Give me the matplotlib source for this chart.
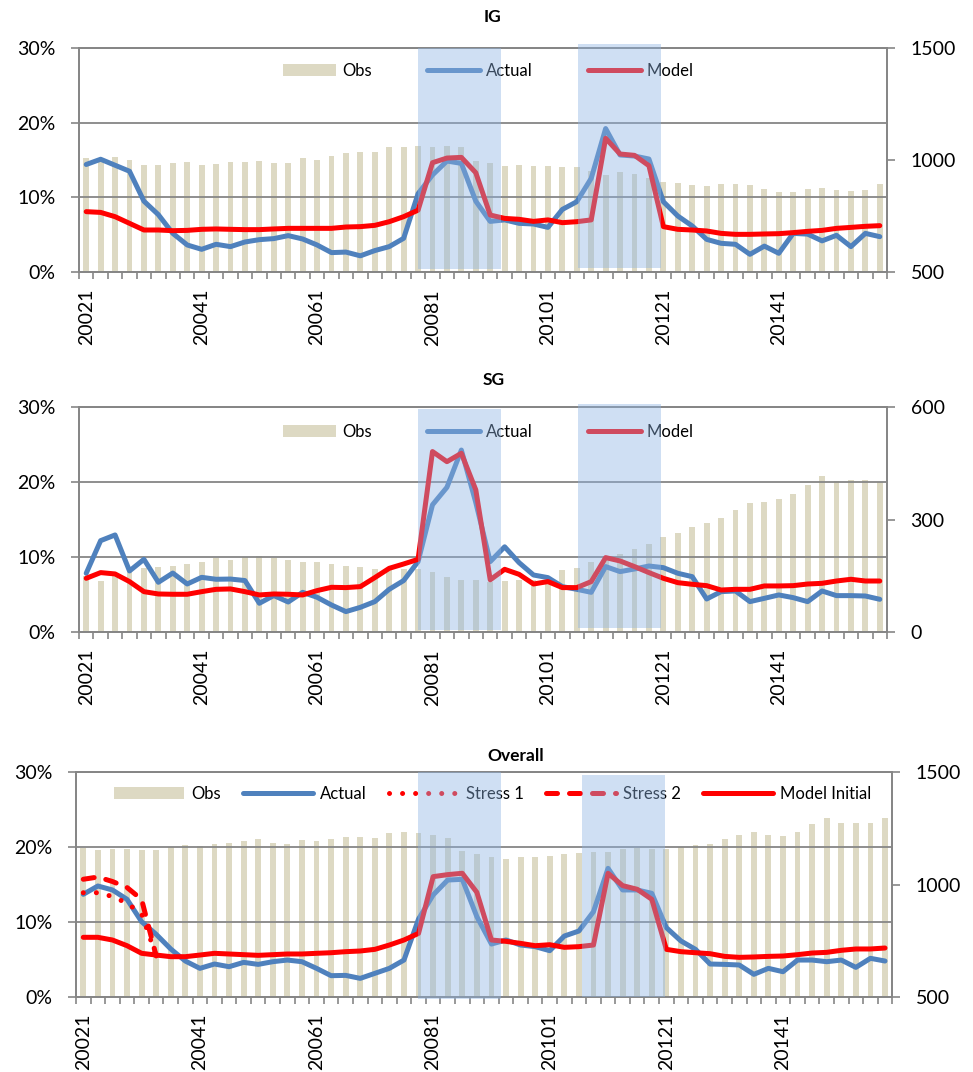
import numpy as np
import matplotlib
matplotlib.use("Agg")
import matplotlib.pyplot as plt
import matplotlib.transforms as mtransforms
from matplotlib.patches import Rectangle
from matplotlib.ticker import FuncFormatter

plt.rcParams['font.family'] = ['Lato', 'DejaVu Sans']

# quarters 2002Q1 .. 2015Q4, labelled as year + quarter
quarters = [f"{y}{q}" for y in range(2002, 2016) for q in range(1, 5)]

# IG
ig_obs = [1007, 1003, 1012, 998, 978, 978, 988, 991, 979, 983,
          991, 991, 994, 985, 986, 1007, 1001, 1019, 1031, 1034,
          1036, 1059, 1059, 1062, 1058, 1062, 1060, 995, 985, 973,
          978, 975, 975, 967, 967, 950, 935, 945, 939, 918,
          902, 896, 889, 886, 892, 893, 889, 869, 859, 859,
          871, 875, 866, 863, 866, 893]
ig_actual = [14.4, 15.1, 14.3, 13.5, 9.5, 7.7, 5.2, 3.65, 3.07, 3.74,
             3.43, 4.05, 4.36, 4.5, 4.9, 4.45, 3.65, 2.63, 2.7, 2.2,
             2.9, 3.43, 4.54, 10.5, 13.0, 14.86, 14.55, 9.5, 6.8, 7.0,
             6.54, 6.45, 6.0, 8.4, 9.43, 12.55, 19.2, 15.67, 15.53, 15.13,
             9.43, 7.52, 6.19, 4.4, 3.87, 3.74, 2.4, 3.5, 2.54, 5.2,
             5.1, 4.2, 4.94, 3.43, 5.2, 4.76]
ig_model = [8.1, 8.0, 7.43, 6.54, 5.65, 5.65, 5.56, 5.6, 5.74, 5.79,
            5.74, 5.7, 5.7, 5.79, 5.87, 5.87, 5.87, 5.87, 6.05, 6.1,
            6.27, 6.76, 7.43, 8.3, 14.64, 15.26, 15.35, 13.3, 7.65, 7.2,
            7.08, 6.8, 7.0, 6.63, 6.76, 7.0, 17.9, 15.8, 15.62, 14.24,
            6.1, 5.74, 5.65, 5.52, 5.2, 5.07, 5.07, 5.12, 5.16, 5.3,
            5.47, 5.6, 5.87, 6.0, 6.14, 6.23]

# SG
sg_obs = [150, 138, 150, 165, 172, 175, 176, 182, 188, 197,
          193, 200, 204, 197, 193, 188, 188, 181, 177, 174,
          169, 166, 168, 169, 162, 147, 140, 140, 135, 137,
          140, 140, 140, 165, 172, 188, 202, 209, 222, 236,
          254, 265, 282, 291, 306, 325, 344, 348, 356, 369,
          392, 418, 404, 406, 407, 401]
sg_actual = [7.87, 12.22, 12.98, 8.18, 9.73, 6.67, 7.9, 6.44, 7.33, 7.07,
             7.1, 6.9, 3.87, 4.9, 4.04, 5.33, 4.67, 3.64, 2.76, 3.33,
             4.09, 5.73, 6.9, 9.42, 17.0, 19.33, 24.3, 17.3, 9.42, 11.4,
             9.29, 7.64, 7.29, 6.09, 5.73, 5.33, 8.76, 8.09, 8.44, 8.84,
             8.62, 7.87, 7.42, 4.44, 5.42, 5.51, 4.09, 4.53, 4.98, 4.62,
             4.09, 5.51, 4.89, 4.89, 4.84, 4.4]
sg_model = [7.2, 7.96, 7.78, 6.76, 5.42, 5.11, 5.07, 5.07, 5.42, 5.73,
            5.78, 5.42, 4.98, 5.11, 5.07, 4.98, 5.56, 6.0, 5.96, 6.09,
            7.29, 8.53, 9.11, 9.73, 24.1, 22.75, 23.87, 19.0, 7.0, 8.4,
            7.73, 6.44, 6.76, 5.96, 5.96, 6.76, 9.96, 9.51, 8.76, 7.96,
            7.2, 6.62, 6.4, 6.22, 5.64, 5.73, 5.73, 6.18, 6.18, 6.22,
            6.44, 6.53, 6.84, 7.07, 6.84, 6.84]

# Overall
all_obs = [1161, 1154, 1158, 1157, 1152, 1155, 1169, 1176, 1172, 1181,
           1187, 1195, 1201, 1185, 1181, 1198, 1193, 1201, 1212, 1212,
           1207, 1231, 1234, 1231, 1219, 1209, 1149, 1138, 1121, 1114,
           1121, 1123, 1127, 1135, 1142, 1143, 1143, 1158, 1161, 1160,
           1160, 1166, 1175, 1181, 1201, 1221, 1236, 1221, 1216, 1233,
           1268, 1298, 1276, 1276, 1276, 1298]
all_actual = [13.69, 14.8, 14.27, 13.02, 10.03, 8.34, 6.38, 4.77, 3.79, 4.37,
              4.01, 4.59, 4.32, 4.68, 4.9, 4.68, 3.79, 2.81, 2.85, 2.45,
              3.12, 3.79, 4.9, 10.39, 13.6, 15.6, 15.69, 10.7, 7.04, 7.58,
              6.91, 6.69, 6.15, 8.11, 8.78, 11.37, 17.16, 14.27, 14.27, 13.82,
              9.23, 7.45, 6.33, 4.37, 4.32, 4.24, 2.99, 3.79, 3.34, 4.9,
              4.9, 4.68, 4.9, 3.92, 5.13, 4.77]
all_model = [7.94, 7.94, 7.58, 6.82, 5.8, 5.57, 5.35, 5.35, 5.57, 5.8,
             5.71, 5.62, 5.53, 5.62, 5.71, 5.71, 5.8, 5.88, 6.02, 6.11,
             6.33, 6.91, 7.58, 8.47, 16.05, 16.32, 16.5, 13.95, 7.58, 7.4,
             7.13, 6.82, 6.95, 6.6, 6.69, 6.91, 16.5, 14.85, 14.36, 13.02,
             6.33, 6.02, 5.88, 5.75, 5.39, 5.26, 5.31, 5.39, 5.44, 5.62,
             5.84, 5.93, 6.2, 6.38, 6.38, 6.51]
stress1 = [13.9, 13.9, 13.4, 12.5, 11.1, 5.45]
stress2 = [15.7, 16.0, 15.4, 14.6, 13.0, 5.45]

W, H = 973, 1072
fig = plt.figure(figsize=(W / 100, H / 100), dpi=100)

GRID = '#868686'
BEIGE = '#DDD9C3'
BLUE = '#4F81BD'
RED = '#FF0000'
SHADE = '#8EB4E3'

solid = dict(lw=3.6, solid_capstyle='round', solid_joinstyle='round')
actual_style = dict(color=BLUE, **solid)
model_style = dict(color=RED, **solid)
dot_style = dict(color=RED, lw=3.6, linestyle=(0, (0.01, 2.6)),
                 dash_capstyle='round', solid_joinstyle='round')
dash_style = dict(color=RED, lw=3.6, linestyle=(0, (2.2, 2.4)),
                  dash_capstyle='round', dash_joinstyle='round')


def panel(rect, title, title_xy, obs, obs_lim, obs_ticks, lines, shades, leg):
    l, t, r, b = rect
    ax = fig.add_axes([l / W, 1 - b / H, (r - l) / W, (b - t) / H])
    ax2 = ax.twinx()
    ax.set_zorder(2)
    ax2.set_zorder(1)
    ax.patch.set_visible(False)

    x = np.arange(len(quarters))
    bars = ax2.bar(x, obs, width=0.4, color=BEIGE, zorder=1)
    ax2.set_ylim(*obs_lim)
    ax2.set_yticks(obs_ticks)

    handles, labels = [bars], ['Obs']
    for vals, label, style in lines:
        ln, = ax.plot(x[:len(vals)], vals, **style)
        handles.append(ln)
        labels.append(label)

    ax.set_xlim(-0.5, len(x) - 0.5)
    ax.set_ylim(0, 30)
    ax.set_yticks([0, 10, 20, 30])
    ax.yaxis.set_major_formatter(FuncFormatter(lambda v, p: f"{v:.0f}%"))
    ax.grid(axis='y', color=GRID, lw=1.3)
    ax.set_axisbelow(True)

    # tick marks between quarters, labels every 8th quarter
    ax.set_xticks(np.arange(-0.5, len(x), 1))
    ax.set_xticklabels([])
    ax.set_xticks(x[::8], minor=True)
    ax.set_xticklabels(quarters[::8], minor=True, rotation=90)
    ax.tick_params(axis='x', which='major', length=5, width=1.2, color=GRID)
    ax.tick_params(axis='x', which='minor', length=0, pad=12, labelsize=14)
    ax.tick_params(axis='y', length=6, width=1.2, color=GRID, pad=11, labelsize=14)
    ax2.tick_params(axis='y', length=6, width=1.2, color=GRID, pad=11, labelsize=14)
    for a in (ax, ax2):
        for s in a.spines.values():
            s.set_color(GRID)
            s.set_linewidth(1.3)

    lg = ax.legend(handles, labels, loc='center left', bbox_to_anchor=leg['anchor'],
                   ncol=len(handles), frameon=False, fontsize=12, borderpad=0,
                   borderaxespad=0, handlelength=leg['hl'], handletextpad=leg['tp'],
                   columnspacing=leg['cs'])
    lg.set_zorder(5)

    # translucent recession bands drawn over everything
    trans = mtransforms.blended_transform_factory(ax.transData, ax.transAxes)
    for x0, x1, y0, y1 in shades:
        ax.add_patch(Rectangle((x0, y0), x1 - x0, y1 - y0, transform=trans,
                               facecolor=SHADE, alpha=0.42, lw=0, zorder=10,
                               clip_on=False))

    fig.text(title_xy[0] / W, 1 - title_xy[1] / H, title, ha='center', va='center',
             fontsize=12.5, fontweight='bold')


panel((79, 47.7, 887, 272.3), 'IG', (492.5, 16.5), ig_obs, (500, 1500), [500, 1000, 1500],
      [(ig_actual, 'Actual', actual_style), (ig_model, 'Model', model_style)],
      [(23.0, 28.72, 0.0134, 1.0), (34.08, 39.83, 0.0205, 1.0165)],
      dict(anchor=(0.2525, 0.896), hl=3.2, tp=0.35, cs=3.3))

panel((79, 407.3, 887, 632.3), 'SG', (494, 380), sg_obs, (0, 600), [0, 300, 600],
      [(sg_actual, 'Actual', actual_style), (sg_model, 'Model', model_style)],
      [(23.0, 28.74, 0.010, 0.992), (34.08, 39.83, 0.0178, 1.0147)],
      dict(anchor=(0.2525, 0.892), hl=3.2, tp=0.35, cs=3.3))

panel((76, 772.3, 892.3, 996.7), 'Overall', (516, 756), all_obs, (500, 1500), [500, 1000, 1500],
      [(all_actual, 'Actual', actual_style), (stress1, 'Stress 1', dot_style),
       (stress2, 'Stress 2', dash_style), (all_model, 'Model Initial', model_style)],
      [(22.99, 28.63, -0.0116, 1.0), (34.2, 39.9, -0.003, 0.988)],
      dict(anchor=(0.0466, 0.903), hl=4.2, tp=0.45, cs=1.3))

fig.savefig('out.png', dpi=100)
